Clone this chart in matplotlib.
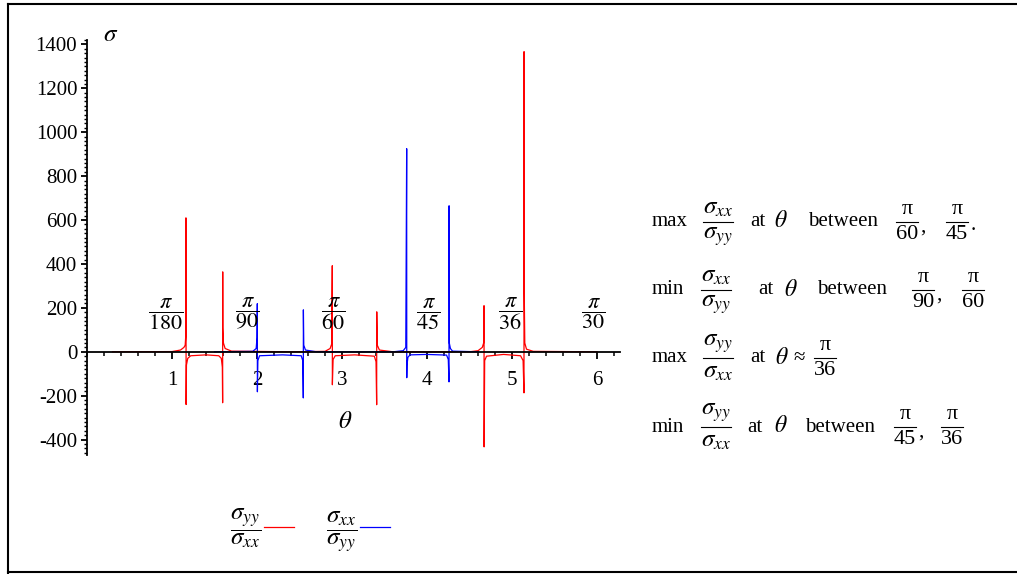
import matplotlib
matplotlib.use('Agg')
import matplotlib.pyplot as plt
from matplotlib.lines import Line2D
from matplotlib.ticker import MultipleLocator

plt.rcParams['font.family'] = ['Liberation Serif', 'DejaVu Serif']
plt.rcParams['mathtext.fontset'] = 'stix'
plt.rcParams['axes.unicode_minus'] = False

# sigma_yy / sigma_xx  (red)
red_x = [0.30, 1.00, 1.10, 1.140, 1.155, 1.163, 1.164, 1.166, 1.170, 1.185, 1.22, 1.40, 1.55,
         1.580, 1.592, 1.5955, 1.5965, 1.598, 1.605, 1.625, 1.70, 2.40,
         2.80, 2.860, 2.878, 2.8855, 2.8865, 2.895, 2.92, 3.15, 3.38, 3.400, 3.4075, 3.4085,
         3.415, 3.44, 3.60,
         4.50, 4.60, 4.650, 4.666, 4.6705, 4.6715, 4.678, 4.70, 4.90, 5.10, 5.130, 5.1405,
         5.1415, 5.143, 5.150, 5.17, 5.25, 6.00]
red_y = [0, 1, 8, 20, 30, 80, 610, -240, -60, -30, -18, -14, -18,
         -30, -70, -232, 364, 110, 40, 15, 3, 0,
         2, 15, 35, 392, -150, -35, -18, -14, -20, -45, -241, 182,
         30, 8, 0,
         0, 5, 20, 40, 210, -433, -40, -20, -12, -18, -40, -187,
         1367, 287, 40, 12, 2, 0]

# sigma_xx / sigma_yy  (blue)
blue_x = [1.50, 1.95, 1.990, 2.000, 2.0035, 2.0045, 2.010, 2.03, 2.30, 2.52, 2.538, 2.5445,
          2.5455, 2.550, 2.57, 2.70,
          3.60, 3.72, 3.750, 3.7605, 3.7615, 3.764, 3.775, 3.80, 4.00, 4.23, 4.250, 4.2585,
          4.2595, 4.262, 4.275, 4.30, 4.60]
blue_y = [0, 2, 15, 64, 219, -182, -40, -18, -14, -18, -40, -210,
          191, 30, 8, 0,
          0, 5, 20, 925, -118, -60, -25, -14, -12, -15, -35, -137,
          665, 40, 15, 3, 0]

angle_pos = [0.92, 1.88, 2.89, 4.01, 4.98, 5.95]
angle_labels = [r'$\dfrac{\pi}{180}$', r'$\dfrac{\pi}{90}$', r'$\dfrac{\pi}{60}$',
                r'$\dfrac{\pi}{45}$', r'$\dfrac{\pi}{36}$', r'$\dfrac{\pi}{30}$']

W, H = 1017, 574


def P(x, y):
    return x / W, 1 - y / H


fig = plt.figure(figsize=(W / 100, H / 100), dpi=100)
ax = fig.add_axes([87 / W, 1 - 455 / H, 533 / W, 415 / H])

ax.plot(red_x, red_y, color='#ff0000', lw=0.9, label=r'$\dfrac{\sigma_{yy}}{\sigma_{xx}}$')
ax.plot(blue_x, blue_y, color='#0000ff', lw=0.9, label=r'$\dfrac{\sigma_{xx}}{\sigma_{yy}}$')

ax.set_xlim(0, 6.27)
ax.set_ylim(-470, 1420)

for s in ['top', 'right']:
    ax.spines[s].set_visible(False)
ax.spines['bottom'].set_position(('data', 0))
ax.spines['left'].set_position(('data', 0))
ax.spines['bottom'].set_linewidth(1.3)
ax.spines['left'].set_linewidth(1.3)
ax.spines['bottom'].set_zorder(3)

ax.xaxis.set_major_locator(MultipleLocator(1))
ax.xaxis.set_minor_locator(MultipleLocator(0.2))
ax.yaxis.set_major_locator(MultipleLocator(200))
ax.yaxis.set_minor_locator(MultipleLocator(20))
ax.tick_params(axis='x', which='major', direction='out', length=5, width=1.3, labelsize=15, pad=9)
ax.tick_params(axis='x', which='minor', direction='out', length=3, width=1.1)
ax.tick_params(axis='y', which='major', direction='out', length=4, width=1.3, labelsize=15, pad=3)
ax.tick_params(axis='y', which='minor', direction='out', length=2.5, width=1.0)
ax.set_xticks([1, 2, 3, 4, 5, 6])
ax.set_xticklabels(['1', '2', '3', '4', '5', '6'])
ax.patch.set_alpha(0)

for xp, lab in zip(angle_pos, angle_labels):
    ax.text(xp, 173, lab, ha='center', va='center', fontsize=16)

fig.text(*P(111, 35), r'$\sigma$', ha='center', va='center', fontsize=18)
fig.text(*P(345, 422), r'$\theta$', ha='center', va='center', fontsize=18)


# right-hand notes, drawn piece by piece so the fractions keep full size
def frac(xc, yb, num, den, w, fs=18):
    fig.text(*P(xc, yb - 3), num, ha='center', va='bottom', fontsize=fs)
    fig.text(*P(xc, yb + 3), den, ha='center', va='top', fontsize=fs)
    x0, y0 = P(xc - w / 2, yb)
    x1, _ = P(xc + w / 2, yb)
    fig.add_artist(Line2D([x0, x1], [y0, y0], color='black', lw=0.8))


def word(x, yb, s, fs=15, ha='left'):
    fig.text(*P(x, yb), s, ha=ha, va='center', fontsize=fs)


sxx = r'$\sigma_{xx}$'
syy = r'$\sigma_{yy}$'
th = r'$\theta$'

# line 1
yb = 222
word(652, yb, 'max'); frac(718, yb, sxx, syy, 30)
word(750, yb, 'at'); word(781, yb, th, 17, 'center'); word(808, yb, 'between')
frac(907, yb, 'π', '60', 22, 16); word(920, yb + 5, ','); frac(957, yb, 'π', '45', 22, 16)
word(971, yb + 3, '.')
# line 2
yb = 290
word(652, yb, 'min'); frac(716, yb, sxx, syy, 30)
word(758, yb, 'at'); word(791, yb, th, 17, 'center'); word(817, yb, 'between')
frac(923, yb, 'π', '90', 22, 16); word(936, yb + 5, ','); frac(973, yb, 'π', '60', 22, 16)
# line 3
yb = 358
word(652, yb, 'max'); frac(718, yb, syy, sxx, 30)
word(750, yb, 'at'); word(782, yb, th, 17, 'center'); word(799, yb, '≈', 15, 'center')
frac(825, yb, 'π', '36', 22, 16)
# line 4
yb = 427
word(652, yb, 'min'); frac(716, yb, syy, sxx, 30)
word(747, yb, 'at'); word(781, yb, th, 17, 'center'); word(805, yb, 'between')
frac(905, yb, 'π', '45', 22, 16); word(918, yb + 5, ','); frac(952, yb, 'π', '36', 22, 16)

fig.legend(loc='center left', bbox_to_anchor=(P(220, 530)), ncol=2, frameon=False,
           markerfirst=False, fontsize=18, handlelength=1.2, columnspacing=1.3,
           handletextpad=0.1, borderaxespad=0)

# outer frame
fig.add_artist(Line2D([8 / W, 8 / W], [0, 1 - 4 / H], color='black', lw=1.5))
fig.add_artist(Line2D([8 / W, 1], [1 - 4 / H, 1 - 4 / H], color='black', lw=1.5))
fig.add_artist(Line2D([8 / W, 1], [1 - 572 / H, 1 - 572 / H], color='black', lw=1.5))

fig.savefig('out.png', dpi=100)
